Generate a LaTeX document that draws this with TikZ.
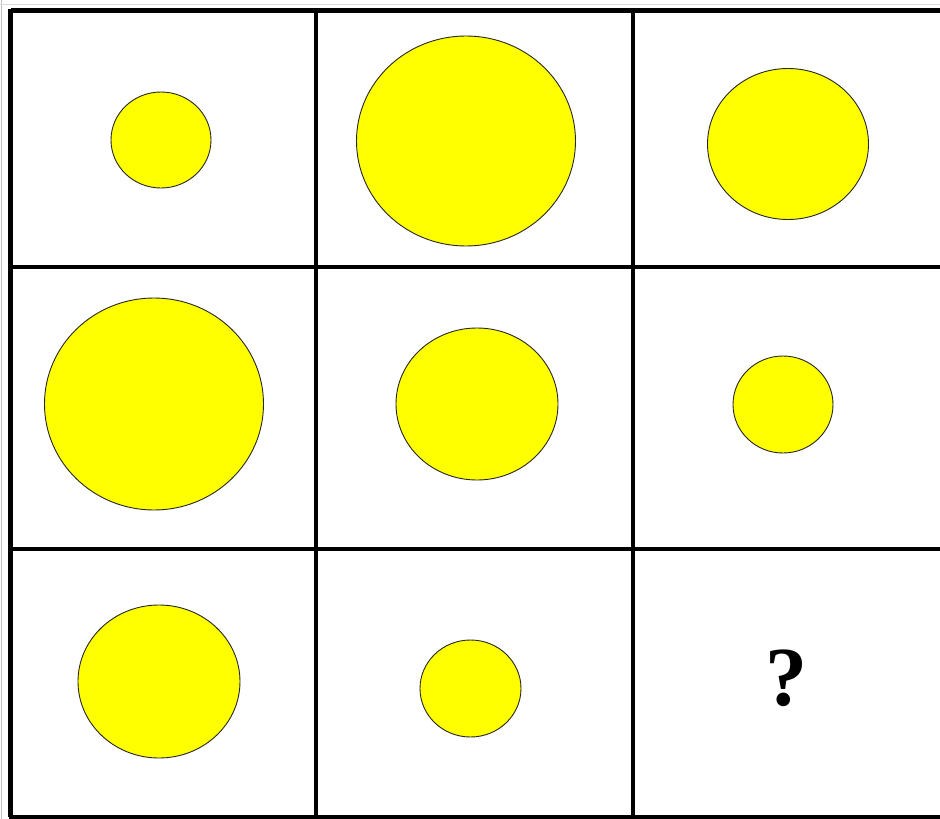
\documentclass[tikz,border=0pt]{standalone}
\usepackage{fontspec}
\setmainfont{Liberation Serif}
\begin{document}
\begin{tikzpicture}[x=1pt,y=-1pt,
  ball/.style={draw=black!85,line width=0.9pt,fill={rgb,255:red,255;green,255;blue,0}},
  gridline/.style={line width=3.2pt,black},
  frame/.style={line width=4.5pt,black}]
\useasboundingbox (0,0) rectangle (940,819);
\fill[white] (0,0) rectangle (940,819);
\draw[black!25,line width=1pt] (1.5,0) -- (1.5,819);
\draw[black!15,line width=1pt] (0,4) -- (940,4);
% circles
\draw[ball] (161,140) ellipse [x radius=50,y radius=48];
\draw[ball] (466,141) ellipse [x radius=109.5,y radius=105];
\draw[ball] (788,144) ellipse [x radius=80.5,y radius=75.5];
\draw[ball] (154,404) ellipse [x radius=109.5,y radius=106];
\draw[ball] (477,404) ellipse [x radius=81,y radius=76];
\draw[ball] (783,404.5) ellipse [x radius=50,y radius=48.5];
\draw[ball] (159,681.5) ellipse [x radius=81,y radius=76.5];
\draw[ball] (470.5,688.5) ellipse [x radius=50.5,y radius=48.5];
\node (q) at (786,678) {\fontsize{84}{84}\selectfont\bfseries ?};
% grid
\draw[gridline] (316,10) -- (316,817);
\draw[gridline] (633,10) -- (633,817);
\draw[gridline] (10,267) -- (940,267);
\draw[gridline] (10,549) -- (940,549);
\draw[frame] (10.5,10.5) -- (945,10.5);
\draw[frame] (10.5,8.5) -- (10.5,817);
\draw[frame] (8.5,817) -- (945,817);
\end{tikzpicture}
\end{document}
